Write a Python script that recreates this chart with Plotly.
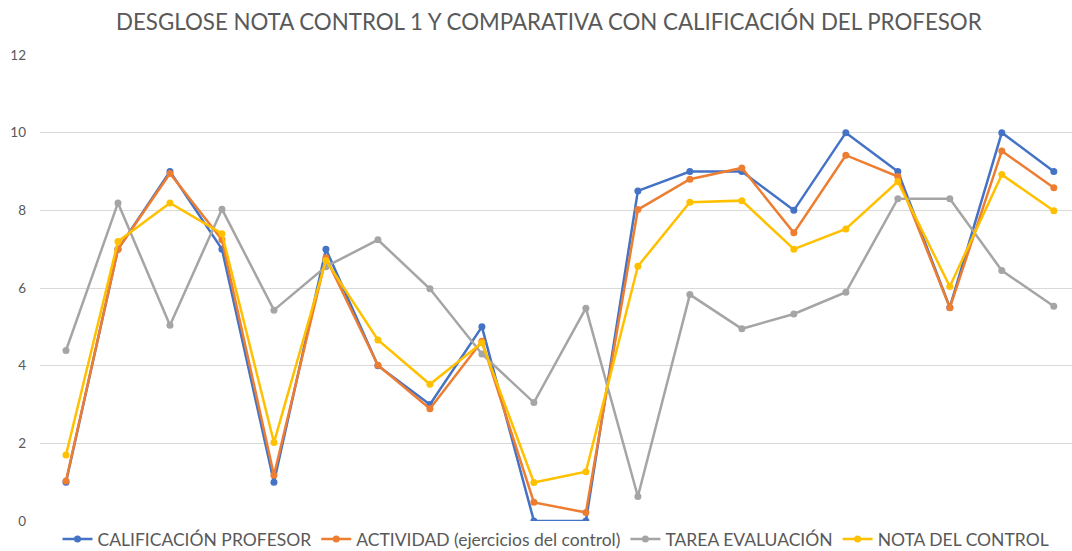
import plotly.graph_objects as go

categories = list(range(1, 21))
calificacion_profesor = [1, 7, 9, 7, 1, 7, 4, 3, 5, 0, 0, 8.5, 9, 9, 8, 10, 9, 5.5, 10, 9]
actividad = [1.03, 7.0, 8.95, 7.24, 1.18, 6.78, 4.01, 2.89, 4.63, 0.48, 0.22, 8.02, 8.8, 9.09, 7.42, 9.42, 8.87, 5.49, 9.53, 8.58]
tarea_evaluacion = [4.39, 8.19, 5.04, 8.03, 5.43, 6.55, 7.24, 5.98, 4.3, 3.05, 5.48, 0.63, 5.83, 4.95, 5.33, 5.89, 8.3, 8.3, 6.45, 5.53]
nota_control = [1.70, 7.2, 8.19, 7.4, 2.02, 6.71, 4.66, 3.52, 4.59, 0.99, 1.27, 6.56, 8.21, 8.25, 7.0, 7.52, 8.74, 6.04, 8.92, 7.99]

series = [
    ("CALIFICACIÓN PROFESOR", calificacion_profesor, "#4472C4"),
    ("ACTIVIDAD (ejercicios del control)", actividad, "#ED7D31"),
    ("TAREA EVALUACIÓN", tarea_evaluacion, "#A5A5A5"),
    ("NOTA DEL CONTROL", nota_control, "#FFC000"),
]

fig = go.Figure()
for name, vals, color in series:
    fig.add_trace(go.Scatter(
        x=categories, y=vals, name=name, mode="lines+markers",
        line=dict(color=color, width=2.5),
        marker=dict(color=color, size=7),
    ))

fig.update_layout(
    width=1072, height=551,
    paper_bgcolor="white", plot_bgcolor="white",
    margin=dict(l=40, r=0, t=55, b=30, autoexpand=False),
    title=dict(text="DESGLOSE NOTA CONTROL 1 Y COMPARATIVA CON CALIFICACIÓN DEL PROFESOR",
               x=0.512, xanchor="center", y=0.96, yanchor="middle",
               font=dict(family="Lato", size=22.3, color="#595959")),
    font=dict(family="Lato", color="#595959"),
    showlegend=True,
    legend=dict(orientation="h", x=0.5, xanchor="center", y=-0.039, yanchor="middle",
                font=dict(family="Lato", size=17.5, color="#595959"),
                itemwidth=30, tracegroupgap=0),
    xaxis=dict(range=[0.5, 20.35], showticklabels=False, showgrid=False,
               zeroline=False, showline=False, ticks="", automargin=False),
    yaxis=dict(range=[0, 12], dtick=2, showgrid=True, gridcolor="#D9D9D9", gridwidth=1,
               zeroline=False, showline=False, ticks="", automargin=False,
               tickfont=dict(family="Lato", size=13.5, color="#595959"),
               ticklabelstandoff=13),
)

fig.write_html("out.html", config={"displayModeBar": False},
               post_script="document.body.style.margin='0';document.body.style.overflow='hidden';")
